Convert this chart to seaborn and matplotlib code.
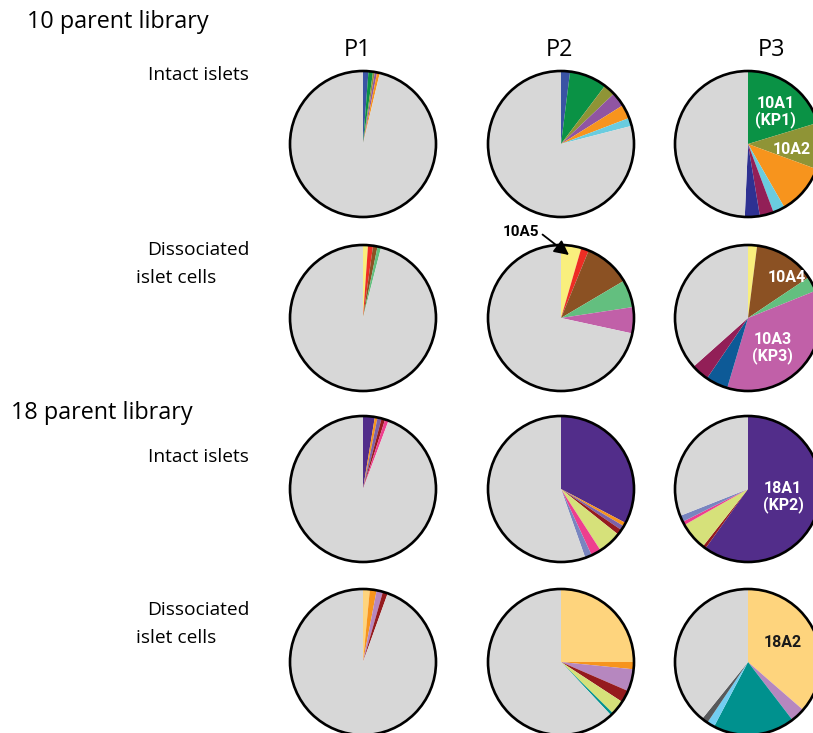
import matplotlib
matplotlib.use("Agg")
import matplotlib.pyplot as plt
from matplotlib.patches import Circle
import seaborn as sns

# ==========================================
# 0. data (percent of reads per barcode, clockwise from 12 o'clock)
# ==========================================
GREY = "#d7d7d7"

c = {
    "blue": "#3a53a4", "green": "#0a9245", "olive": "#8f9436", "purple": "#9055a2",
    "orange": "#f7941d", "cyan": "#6accdf", "wine": "#921f57", "navy": "#2e3192",
    "yellow": "#f9ef7d", "red": "#ed2d24", "brown": "#8b5123", "mint": "#63bf7f",
    "magenta": "#c160a8", "steel": "#0d5a97", "violet": "#522d8a", "lavender": "#7c62a8",
    "darkred": "#951b1e", "lime": "#d6e17a", "pink": "#ee3f8e", "slate": "#7885c0",
    "peach": "#fed47d", "lilac": "#b687bf", "teal": "#00918e", "sky": "#72cef2",
    "charcoal": "#58595b",
}

# 10 parent library, intact islets
lib10_intact_p1 = [1.2, 1.0, 0.4, 0.5, 0.6]
lib10_intact_p1_col = ["blue", "green", "olive", "purple", "orange"]
lib10_intact_p2 = [2.0, 8.3, 2.6, 3.2, 3.1, 1.8]
lib10_intact_p2_col = ["blue", "green", "olive", "purple", "orange", "cyan"]
lib10_intact_p3 = [20.3, 10.3, 11.1, 2.6, 3.1, 3.3]
lib10_intact_p3_col = ["green", "olive", "orange", "cyan", "wine", "navy"]

# 10 parent library, dissociated islet cells
lib10_dissoc_p1 = [1.1, 1.1, 1.0, 0.8]
lib10_dissoc_p1_col = ["yellow", "red", "brown", "mint"]
lib10_dissoc_p2 = [4.5, 1.7, 10.3, 6.1, 5.8]
lib10_dissoc_p2_col = ["yellow", "red", "brown", "mint", "magenta"]
lib10_dissoc_p3 = [2.0, 13.6, 3.3, 35.7, 4.9, 3.9]
lib10_dissoc_p3_col = ["yellow", "brown", "mint", "magenta", "steel", "wine"]

# 18 parent library, intact islets
lib18_intact_p1 = [2.6, 0.6, 0.9, 0.8, 0.8]
lib18_intact_p1_col = ["violet", "orange", "lavender", "darkred", "pink"]
lib18_intact_p2 = [32.7, 0.8, 1.0, 1.2, 5.2, 2.2, 1.5]
lib18_intact_p2_col = ["violet", "orange", "lavender", "darkred", "lime", "pink", "slate"]
lib18_intact_p3 = [59.9, 0.7, 6.2, 0.8, 1.4]
lib18_intact_p3_col = ["violet", "darkred", "lime", "pink", "slate"]

# 18 parent library, dissociated islet cells
lib18_dissoc_p1 = [1.5, 1.5, 1.4, 1.1]
lib18_dissoc_p1_col = ["peach", "orange", "lilac", "darkred"]
lib18_dissoc_p2 = [25.0, 1.6, 4.9, 2.7, 3.2, 0.6]
lib18_dissoc_p2_col = ["peach", "orange", "lilac", "darkred", "lime", "teal"]
lib18_dissoc_p3 = [36.4, 3.2, 18.1, 1.7, 1.4]
lib18_dissoc_p3_col = ["peach", "lilac", "teal", "sky", "charcoal"]

passages = ["P1", "P2", "P3"]
libraries = ["10 parent library", "18 parent library"]
conditions = ["Intact islets", "Dissociated\nislet cells"]

pies = [
    [(lib10_intact_p1, lib10_intact_p1_col), (lib10_intact_p2, lib10_intact_p2_col), (lib10_intact_p3, lib10_intact_p3_col)],
    [(lib10_dissoc_p1, lib10_dissoc_p1_col), (lib10_dissoc_p2, lib10_dissoc_p2_col), (lib10_dissoc_p3, lib10_dissoc_p3_col)],
    [(lib18_intact_p1, lib18_intact_p1_col), (lib18_intact_p2, lib18_intact_p2_col), (lib18_intact_p3, lib18_intact_p3_col)],
    [(lib18_dissoc_p1, lib18_dissoc_p1_col), (lib18_dissoc_p2, lib18_dissoc_p2_col), (lib18_dissoc_p3, lib18_dissoc_p3_col)],
]

# labels inside P3 pies: (row, text, x, y in pie units, colour)
p3_labels = [
    (0, "10A1\n(KP1)", 0.38, 0.44, "white"),
    (0, "10A2", 0.60, -0.07, "white"),
    (1, "10A4", 0.53, 0.55, "white"),
    (1, "10A3\n(KP3)", 0.34, -0.41, "white"),
    (2, "18A1\n(KP2)", 0.48, -0.11, "white"),
    (3, "18A2", 0.48, 0.27, "#1a1a1a"),
]

# ==========================================
# 1. layout (pixels)
# ==========================================
W, H = 813, 733
R = 73
col_x = [363, 561, 748]
row_y = [144, 318, 489, 662]

sns.set_theme(style="white")
plt.rcParams["font.family"] = ["Open Sans", "DejaVu Sans"]
plt.rcParams["text.color"] = "black"
narrow = ["Liberation Sans Narrow", "Roboto", "DejaVu Sans"]

fig = plt.figure(figsize=(W / 100, H / 100), dpi=100)
fig.patch.set_facecolor("white")

pad = 3
for i, row in enumerate(pies):
    for j, (vals, cols) in enumerate(row):
        cx, cy = col_x[j], row_y[i]
        rect = [(cx - R - pad) / W, (H - cy - R - pad) / H, 2 * (R + pad) / W, 2 * (R + pad) / H]
        ax = fig.add_axes(rect)
        sizes = list(vals) + [100 - sum(vals)]
        colors = [c[k] for k in cols] + [GREY]
        ax.pie(sizes, colors=colors, startangle=90, counterclock=False,
               radius=1, wedgeprops=dict(linewidth=0))
        ax.add_patch(Circle((0, 0), 1, fill=False, edgecolor="black", lw=1.9, zorder=5))
        lim = 1 + pad / R
        ax.set_xlim(-lim, lim)
        ax.set_ylim(-lim, lim)
        ax.set_aspect("equal")
        ax.axis("off")
        if j == 2:
            for r, txt, tx, ty, tc in p3_labels:
                if r == i:
                    ax.text(tx, ty, txt, color=tc, ha="center", va="center",
                            fontsize=11.5, fontweight="bold", linespacing=1.05,
                            family=narrow, zorder=6)

# overlay for text and the arrow
ov = fig.add_axes([0, 0, 1, 1], facecolor="none")
ov.set_xlim(0, W)
ov.set_ylim(H, 0)
ov.axis("off")

ov.text(27, 22, libraries[0], fontsize=16.8, ha="left", va="center")
ov.text(11, 413, libraries[1], fontsize=16.8, ha="left", va="center")
for x, p in zip([357, 559, 771], passages):
    ov.text(x, 50, p, fontsize=16.8, ha="center", va="center")

ov.text(148, 75, conditions[0], fontsize=13.8, ha="left", va="center")
ov.text(148, 457, conditions[0], fontsize=13.8, ha="left", va="center")
for y in [250, 610]:
    ov.text(147, y, "Dissociated", fontsize=13.8, ha="left", va="center")
    ov.text(136, y + 28, "islet cells", fontsize=13.8, ha="left", va="center")

ov.annotate("10A5", xy=(569, 255), xytext=(521, 232), fontsize=11, fontweight="bold",
            family=narrow, ha="center", va="center",
            arrowprops=dict(arrowstyle="-|>,head_length=0.8,head_width=0.4", color="black",
                            lw=1.3, shrinkA=0, shrinkB=0, relpos=(1.0, 0.5)), zorder=10)

fig.savefig("out.png", dpi=100)
